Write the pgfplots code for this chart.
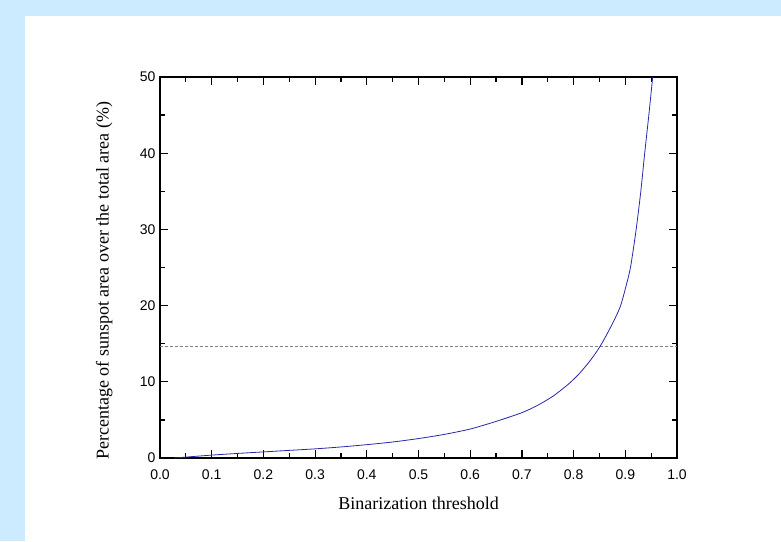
\documentclass[border=0pt]{standalone}
\usepackage{fontspec}
\setmainfont{Liberation Serif}
\setsansfont{Liberation Sans}
\usepackage{pgfplots}
\pgfplotsset{compat=1.18}
\definecolor{bgblue}{RGB}{204,235,255}
\definecolor{curveblue}{RGB}{40,40,170}

\begin{document}
\begin{tikzpicture}[x=1pt,y=1pt]
% page background and white panel
\fill[bgblue] (0,0) rectangle (781,541);
\fill[white] (25,0) rectangle (781,525);
\begin{axis}[
    at={(160pt,83pt)}, anchor=south west,
    scale only axis, width=517pt, height=381pt,
    xmin=0, xmax=1, ymin=0, ymax=50,
    xtick={0,0.1,0.2,0.3,0.4,0.5,0.6,0.7,0.8,0.9,1.0},
    ytick={0,10,20,30,40,50},
    minor x tick num=1, minor y tick num=1,
    xticklabel style={yshift=-8pt, /pgf/number format/.cd, fixed, fixed zerofill, precision=1},
    yticklabel style={xshift=-1pt},
    /pgf/number format/assume math mode=true,
    tick align=inside,
    major tick length=8pt, minor tick length=5pt,
    every tick/.style={black, line width=1.2pt},
    axis line style={line width=1.3pt},
    ticklabel style={font=\sffamily\fontsize{14}{14}\selectfont},
    xlabel={Binarization threshold},
    ylabel={Percentage of sunspot area over the total area (\%)},
    label style={font=\fontsize{18}{18}\selectfont},
    xlabel style={at={(axis description cs:0.5,-0.118)}, anchor=center},
    ylabel style={at={(axis description cs:-0.108,0.465)}, anchor=center},
    clip=true,
]
% threshold reference line
\addplot[gray, line width=0.8pt, dash pattern=on 3pt off 2pt] coordinates {(0,14.7) (1,14.7)};
% sunspot area vs threshold
\addplot[curveblue, line width=0.8pt, smooth, tension=0.4] table {
0.027 0.0
0.05 0.12
0.1 0.38
0.15 0.6
0.2 0.8
0.25 1.0
0.3 1.2
0.35 1.45
0.4 1.75
0.45 2.1
0.5 2.55
0.55 3.1
0.6 3.8
0.65 4.8
0.7 5.95
0.73 6.9
0.76 8.1
0.79 9.7
0.81 11.0
0.83 12.6
0.845 14.0
0.856 15.2
0.868 16.7
0.88 18.3
0.891 20
0.9 22.2
0.91 25
0.921 30
0.93 35
0.9375 40
0.9455 45
0.953 50
};
\end{axis}
\end{tikzpicture}
\end{document}
